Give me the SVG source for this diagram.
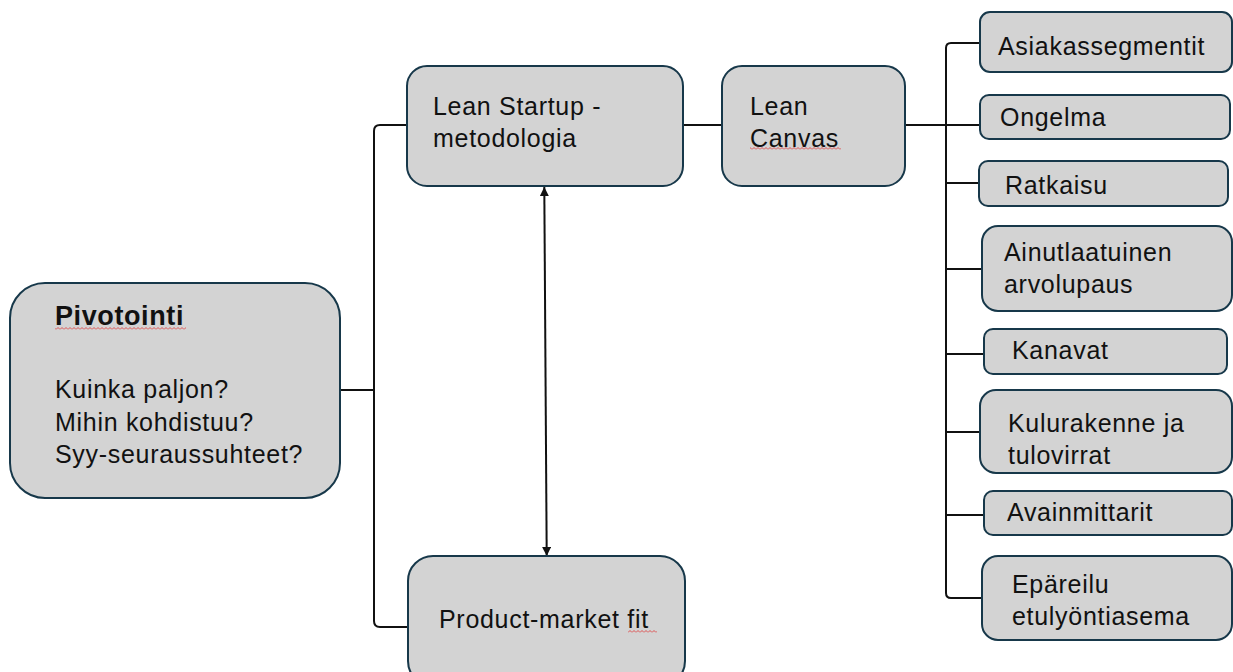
<svg xmlns="http://www.w3.org/2000/svg" width="1233" height="672" viewBox="0 0 1233 672">
  <style>
    .box { fill: #d3d3d3; stroke: #17384a; stroke-width: 2; }
    .lbl { font-family: "Liberation Sans", Arial, sans-serif; font-size: 25px; letter-spacing: 0.7px; fill: #111; }
    .bold { font-weight: bold; font-size: 27px; letter-spacing: 0.6px; }
    .wire { fill: none; stroke: #111; stroke-width: 2; }
  </style>
  <defs>
    <marker id="tip" viewBox="0 0 10 10" refX="10" refY="5" markerUnits="userSpaceOnUse" markerWidth="9" markerHeight="9" orient="auto-start-reverse">
      <path d="M0,0 L10,5 L0,10 z" fill="#111"/>
    </marker>
    <!-- wavy spell-check underline -->
    <pattern id="squiggle" width="4" height="3" patternUnits="userSpaceOnUse">
      <path d="M0,2.5 L2,0.5 L4,2.5" fill="none" stroke="#e03030" stroke-width="0.8"/>
    </pattern>
  </defs>

  <!-- connectors -->
  <g id="connectors">
    <path class="wire" d="M407,125 L380,125 Q374,125 374,131 L374,621 Q374,627 380,627 L408,627"/>
    <path class="wire" d="M340,390 L374,390"/>
    <path class="wire" d="M683,125 L722,125"/>
    <path class="wire" d="M905,125 L980,125"/>
    <path class="wire" d="M980,43 L951,43 Q946,43 946,48 L946,593 Q946,598 951,598 L982,598"/>
    <path class="wire" d="M946,183 L979,183"/>
    <path class="wire" d="M946,269 L982,269"/>
    <path class="wire" d="M946,354 L984,354"/>
    <path class="wire" d="M946,432 L980,432"/>
    <path class="wire" d="M946,515 L984,515"/>
    <line class="wire" x1="544.3" y1="187" x2="546.7" y2="556" marker-start="url(#tip)" marker-end="url(#tip)"/>
  </g>

  <g id="pivotointi">
    <rect class="box" x="10" y="283" width="330" height="215" rx="35"/>
    <text class="lbl bold" x="55" y="325">Pivotointi</text>
    <rect x="55" y="327" width="131" height="3" fill="url(#squiggle)"/>
    <text class="lbl" x="55" y="398">Kuinka paljon?</text>
    <text class="lbl" x="55" y="431">Mihin kohdistuu?</text>
    <text class="lbl" x="55" y="463">Syy-seuraussuhteet?</text>
  </g>

  <g id="lean-startup">
    <rect class="box" x="407" y="66" width="276" height="120" rx="20"/>
    <text class="lbl" x="433" y="115">Lean Startup -</text>
    <text class="lbl" x="433" y="147">metodologia</text>
  </g>

  <g id="lean-canvas">
    <rect class="box" x="722" y="66" width="183" height="120" rx="20"/>
    <text class="lbl" x="750" y="115">Lean</text>
    <text class="lbl" x="750" y="147">Canvas</text>
    <rect x="750" y="147" width="91" height="3" fill="url(#squiggle)"/>
  </g>

  <g id="product-market-fit">
    <rect class="box" x="408" y="556" width="277" height="130" rx="25"/>
    <text class="lbl" x="439" y="628">Product-market fit</text>
    <rect x="628" y="630" width="29" height="3" fill="url(#squiggle)"/>
  </g>

  <g id="asiakassegmentit">
    <rect class="box" x="980" y="12" width="252" height="60" rx="10"/>
    <text class="lbl" x="998" y="55">Asiakassegmentit</text>
  </g>

  <g id="ongelma">
    <rect class="box" x="980" y="95" width="250" height="44" rx="9"/>
    <text class="lbl" x="1000" y="126">Ongelma</text>
  </g>

  <g id="ratkaisu">
    <rect class="box" x="979" y="161" width="249" height="45" rx="9"/>
    <text class="lbl" x="1005" y="194">Ratkaisu</text>
  </g>

  <g id="arvolupaus">
    <rect class="box" x="982" y="226" width="250" height="85" rx="16"/>
    <text class="lbl" x="1004" y="261">Ainutlaatuinen</text>
    <text class="lbl" x="1004" y="293">arvolupaus</text>
  </g>

  <g id="kanavat">
    <rect class="box" x="984" y="329" width="243" height="45" rx="9"/>
    <text class="lbl" x="1012" y="359">Kanavat</text>
  </g>

  <g id="kulurakenne">
    <rect class="box" x="980" y="390" width="252" height="83" rx="16"/>
    <text class="lbl" x="1008" y="432">Kulurakenne ja</text>
    <text class="lbl" x="1008" y="464">tulovirrat</text>
  </g>

  <g id="avainmittarit">
    <rect class="box" x="984" y="491" width="248" height="44" rx="9"/>
    <text class="lbl" x="1007" y="521">Avainmittarit</text>
  </g>

  <g id="etulyontiasema">
    <rect class="box" x="982" y="556" width="250" height="84" rx="16"/>
    <text class="lbl" x="1012" y="593">Epäreilu</text>
    <text class="lbl" x="1012" y="625">etulyöntiasema</text>
  </g>
</svg>
